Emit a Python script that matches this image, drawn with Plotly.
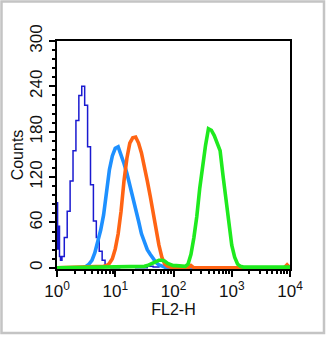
import plotly.graph_objects as go

# ---- data (log10 FL2-H bin centres and counts) ----
navy_log = [0.0, 0.02, 0.035, 0.05, 0.07, 0.10, 0.15, 0.20, 0.25, 0.30, 0.35, 0.40, 0.45,
            0.50, 0.55, 0.60, 0.65, 0.70, 0.75, 0.80, 0.85, 0.90, 0.95, 1.2, 1.5, 1.6, 1.7, 1.8,
            1.9, 2.0, 4.0]
navy_counts = [86, 25, 55, 15, 10, 15, 40, 75, 115, 155, 195, 228, 240,
               215, 160, 110, 62, 40, 22, 10, 4, 1, 0, 1, 0, 2, 1, 2,
               0, 0, 0]

blue_log = [0.0, 0.45, 0.50, 0.55, 0.60, 0.65, 0.70, 0.75, 0.80, 0.85, 0.90, 0.95, 1.00,
            1.05, 1.10, 1.15, 1.20, 1.25, 1.30, 1.35, 1.40, 1.45, 1.50, 1.55, 1.60, 1.65,
            1.70, 1.75, 1.80, 1.85, 1.90, 4.0]
blue_counts = [0, 0, 2, 5, 10, 20, 35, 50, 70, 105, 130, 148, 158,
               160, 150, 138, 125, 110, 95, 80, 62, 45, 33, 24, 18, 12,
               7, 4, 2, 1, 0, 0]

orange_log = [0.0, 0.65, 0.70, 0.75, 0.80, 0.85, 0.90, 0.95, 1.00, 1.05, 1.10, 1.15, 1.20,
              1.25, 1.30, 1.35, 1.40, 1.45, 1.50, 1.55, 1.60, 1.65, 1.70, 1.75, 1.80, 1.85,
              1.90, 1.95, 2.00, 2.25, 2.30, 2.35, 3.90, 3.95, 4.0]
orange_counts = [0, 1, 1, 2, 2, 3, 6, 12, 25, 45, 75, 115, 145,
                 165, 172, 173, 165, 152, 135, 115, 95, 72, 50, 30, 14, 5,
                 2, 1, 0, 0, 3, 0, 0, 4, 0]

green_log = [0.0, 1.45, 1.50, 1.55, 1.60, 1.65, 1.70, 1.75, 1.80, 1.85, 1.90, 1.95, 2.00,
             2.05, 2.10, 2.15, 2.20, 2.25, 2.30, 2.35, 2.40, 2.45, 2.50, 2.55, 2.60, 2.65,
             2.70, 2.75, 2.80, 2.85, 2.90, 2.95, 3.00, 3.05, 3.10, 3.15, 3.20, 4.0]
green_counts = [0, 1, 2, 3, 5, 7, 9, 10, 10, 9, 6, 4, 3,
                3, 3, 3, 2, 5, 18, 40, 68, 105, 135, 162, 184, 182,
                175, 165, 155, 122, 88, 55, 30, 14, 5, 2, 1, 1]

x_tick_vals = [1, 10, 100, 1000, 10000]
x_tick_text = ["10<sup>0</sup>", "10<sup>1</sup>", "10<sup>2</sup>", "10<sup>3</sup>", "10<sup>4</sup>"]
y_tick_vals = [0, 60, 120, 180, 240, 300]

series = [
    ("navy", navy_log, navy_counts, "#1a1ad0", 1.5, "hvh"),
    ("blue", blue_log, blue_counts, "#1e90ff", 3.6, "linear"),
    ("orange", orange_log, orange_counts, "#ff6414", 3.6, "linear"),
    ("green", green_log, green_counts, "#1eea1e", 3.6, "linear"),
]

fig = go.Figure()
for name, lg, cnt, col, w, shp in series:
    fig.add_trace(go.Scatter(
        x=[10 ** v for v in lg], y=cnt, mode="lines", name=name,
        line=dict(color=col, width=w, shape=shp), showlegend=False))

W, H = 329, 337
L, R, T, B = 57, 290, 41, 269
pw, ph = R - L, B - T

fig.update_layout(
    width=W, height=H,
    margin=dict(l=L, r=W - R, t=T, b=H - B, pad=0, autoexpand=False),
    paper_bgcolor="white", plot_bgcolor="white",
    font=dict(family="Liberation Sans, Arial, sans-serif", size=15, color="#111"),
    showlegend=False,
)
fig.update_xaxes(
    type="log", range=[0, 4], automargin=False,
    tickvals=x_tick_vals, ticktext=x_tick_text,
    ticks="outside", ticklen=6, tickwidth=1.5, tickcolor="black",
    minor=dict(tickvals=[m * 10 ** d for d in range(4) for m in range(2, 10)],
               ticks="outside", ticklen=3, tickwidth=1.5, tickcolor="black"),
    showline=True, linecolor="black", linewidth=2, mirror=True,
    showgrid=False, zeroline=False,
    title=dict(text="FL2-H", standoff=2, font=dict(size=16)),
    tickfont=dict(size=17),
)
fig.update_yaxes(
    range=[-1.5, 300], automargin=False,
    tickvals=y_tick_vals, tickangle=-90,
    ticks="outside", ticklen=6, tickwidth=1.5, tickcolor="black",
    minor=dict(dtick=12, ticks="outside", ticklen=3, tickwidth=1.5, tickcolor="black"),
    showline=True, linecolor="black", linewidth=2, mirror=True,
    showgrid=False, zeroline=False,
    title=dict(text="Counts", standoff=0, font=dict(size=16)),
    tickfont=dict(size=17),
)

# outer light-gray frame around the whole picture
bx0, bx1, by0, by1 = 1.5, 324, 1.5, 333
fig.add_shape(type="rect", xref="paper", yref="paper",
              x0=(bx0 - L) / pw, x1=(bx1 - L) / pw,
              y0=(B - by1) / ph, y1=(B - by0) / ph,
              line=dict(color="#c4c4c4", width=2.5), fillcolor="rgba(0,0,0,0)")

fig.write_html("out.html", config={"displayModeBar": False},
               post_script="document.body.style.margin='0';document.body.style.overflow='hidden';")
